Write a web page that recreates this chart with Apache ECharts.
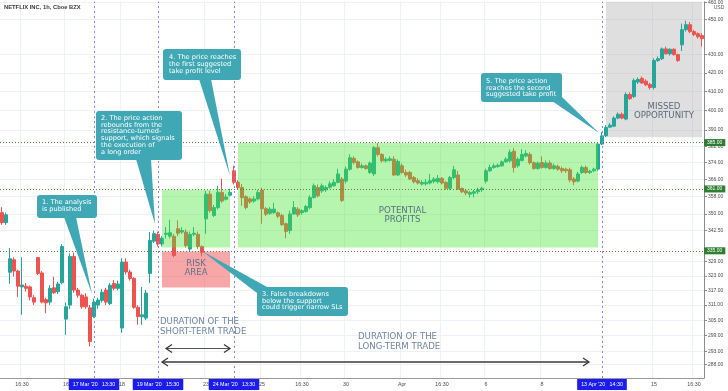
<!DOCTYPE html>
<html><head><meta charset="utf-8">
<script src="https://cdn.jsdelivr.net/npm/echarts@6/dist/echarts.min.js"></script>
<style>html,body{margin:0;padding:0;background:#fff}#c{width:728px;height:391px}</style>
</head><body><div id="c"></div>
<script>
const L = v => Math.log(v);
const days = ['2020-03-11','2020-03-12','2020-03-13','2020-03-16','2020-03-17','2020-03-18','2020-03-19','2020-03-20','2020-03-23','2020-03-24','2020-03-25','2020-03-26','2020-03-27','2020-03-30','2020-03-31','2020-04-01','2020-04-02','2020-04-03','2020-04-06','2020-04-07','2020-04-08','2020-04-09','2020-04-13','2020-04-14','2020-04-15','2020-04-16'];
const sessionHours = ['13:30','14:30','15:30','16:30','17:30','18:30','19:30'];
const categories = days.flatMap(d => sessionHours.map(h => d + ' ' + h)).slice(5, -1);

const opens = [350.5,346,324.5,329.8,325.0,318.4,318.7,318.4,314.0,330.7,
324.2,313.2,312.2,318,316.4,320.1,305.4,311.0,331.2,317.1,
315.0,314.3,309.9,306.4,311,312.9,317.1,311.6,319.8,317.8,
301.9,328.8,324.6,321.9,310.1,306.3,305.8,324.0,337.8,340.8,
336.6,340.8,340,339.9,343.3,341.8,341.8,334.4,340.8,340.8,
335.5,347.7,359.0,349.2,352.8,359.8,356.6,358.5,370.0,364.5,
362.1,357.8,356.8,355.8,356.8,360.9,352.3,350.2,350.5,350.4,
349.2,345.5,342.5,349.9,352.1,350.5,351.0,352.8,357.4,362.1,
360.5,361,362.2,362.9,364.5,366.1,365.1,370.8,376.0,374.3,
371.6,372.4,369.2,368.5,381.2,377.9,374.8,375.0,375.6,368.0,
372.4,369.2,369.2,366.8,365.3,363.7,363.8,364.2,365.0,364.8,
366.4,364.5,361.7,366.8,368.0,361.7,360.5,359.0,359.4,360.1,
361.0,365.1,370.0,371.6,372.0,372.4,374.3,374.8,379.5,372.4,
375.0,377.1,377.9,373.9,371.1,374.0,371.6,373.7,371.1,372.1,
371.1,370.8,370.5,366.1,365.1,369.2,371.6,369.2,370.0,370.8,
383.0,387.2,391.5,392.0,396.1,398.1,395.6,408.4,407.3,415.0,
417.0,415.5,413.7,412.1,426.7,427.7,433.2,430.5,433.0,430.0,
435.5,444.1,447.0,443.0,441.8,440.7];
const highs = [353,350.5,334.8,330.8,325.5,330.9,320,319,315,331,
325,314,319.1,322.6,320.5,336.5,312,332.5,332.9,318,
315.5,315.8,311,313.6,314,317.5,318,320,321.2,321,
330.4,330.4,325.5,322.5,311,318.4,317.1,341.8,342.5,342,
340,344.0,347.3,341,347,344,343,342,344,342,
336,360.5,360.5,354,362.9,366.2,359,361.5,372.4,365.5,
363.7,358.5,357.5,358,361,362,353,353,355,351,
350,346,351.4,355.8,353,352,354,358.5,364,363.5,
364,363,365,366,371,367,372,378,377,375,
373.5,373,374.5,382,383.5,378.5,376.5,377,377,375.5,
373.5,370.5,370,367.5,366.5,365.5,366,368.5,367,368,
367,365,367.5,372.4,370,362,361,360.5,361,362,
362.5,371,373,373.5,373.5,375,376.5,380.3,381,376.5,
380.5,380,379,374.5,374.5,377,375,375,373.5,373,
372,371.5,371.5,367,369.5,372.5,372.5,370.5,371.5,384,
389,392.5,393.5,397,399,399,409.5,409.5,417,417.5,
418,416.5,414.5,428,429,434,434.5,433.5,433.5,430.5,
447.6,449.3,448.5,444,442.5,442];
const lows = [345,345,319.7,322.6,314.3,307.1,316.5,312.9,311,323.3,
311.7,307.7,311,315.5,315.5,319.5,299.3,309.5,316,314,
309.5,309.5,294.8,305.9,309.5,312,311,311,317,317,
300,323.5,321,309.5,303.2,303.2,305,320,337,335.5,
335.5,339,339,330.9,340,341,335,333.5,340,334.5,
331.2,341,350.5,348.5,352,355,356,358,363.5,361,
353.6,352,354.5,355,356,345.5,349,349.5,350,348,
344.5,339.1,341,349.5,348.5,349.5,350.5,352,357,357.5,
359.5,360,361.5,362.5,364,355.3,364,370,373,371,
371,370.5,368.5,367.5,377,374,374,374.5,367.5,367.5,
368.5,367,365.5,364,363.5,363,363,363.5,364,364,
363.5,361,361,366,361,359.5,358.5,357.4,357.5,359,
360,364,369.5,371,371.5,372,374,374,369.2,371.5,
374.5,376.5,373,370.5,370.5,371,371,370.5,370.5,370,
369,369,364.5,363.2,364.5,368.5,368.5,368.5,369.5,370,
382.5,386.5,391,391.5,395.5,395.5,395,405.5,406.5,414,
414,413,411,411,426,427,430,429.5,429.5,426,
432,443,442,440.5,439,434.5];
const closes = [346,349.5,330.2,325.0,318.7,319.2,317.8,314.3,312.2,324.0,
312.2,311.9,317.8,316,319.6,335.5,310.3,331.2,317.1,315.0,
310.3,310.3,296.7,312.2,313,316.2,312.2,319.1,317.8,319.6,
328.8,324.6,321.9,310.1,306.4,307.1,315.9,338.1,341.1,336.6,
339.1,341.3,341.5,331.6,341.3,342.5,335.9,340.8,341.3,335.5,
333.0,359.0,351.4,352.8,359.8,355.8,357.7,359.8,364.5,362.1,
357.4,352.8,355.4,356.8,359.8,352.3,349.8,352.1,352.1,348.9,
345.1,342.1,349.9,352.8,349.5,351.4,353.3,357.4,362.9,358.2,
362.9,362.1,363.8,364.5,368.5,356.1,370.8,376.3,374.0,371.6,
372.4,371.1,373.7,381.2,377.9,374.8,375.6,375.8,368.0,374.5,
369.2,368.0,366.1,364.8,364.2,364.5,364.5,365.3,366.1,366.4,
364.2,361.7,366.8,370.5,361.4,360.1,359.5,359.8,360.1,361.0,
361.7,370.0,371.6,372.4,372.7,374.3,375.6,379.0,371.6,375.6,
377.9,378.4,373.9,371.1,373.7,371.6,373.7,371.1,372.4,370.8,
370.0,370.0,365.6,364.8,368.5,371.6,369.2,369.8,370.8,383.0,
387.1,391.4,392.5,396.1,398.1,396.1,408.4,406.2,415.9,416.4,
414.5,413.5,412.1,426.7,427.7,433.2,430.5,433.0,430.0,426.7,
444.1,447.0,443.0,441.3,440.1,439.0];

const yTickValues = [288,293,299,305,311,317,323,329,342.5,350,358,366,374,382,390,400,410,420,430,450,460];
const yRange = [283, 460.5];
const xTickLabels = [
  ['2020-03-12 16:30','16:30'],['2020-03-16 13:30','16'],['2020-03-18 13:30','18'],
  ['2020-03-23 13:30','23'],['2020-03-25 13:30','25'],['2020-03-26 16:30','16:30'],
  ['2020-03-30 13:30','30'],['2020-04-01 13:30','Apr'],['2020-04-02 16:30','16:30'],
  ['2020-04-06 13:30','6'],['2020-04-08 13:30','8'],['2020-04-15 13:30','15'],
  ['2020-04-16 16:30','16:30']];
const eventMarks = [
  ['2020-03-17 13:30',"17 Mar '20   13:30"],
  ['2020-03-19 15:30',"19 Mar '20   15:30"],
  ['2020-03-24 13:30',"24 Mar '20   13:30"],
  ['2020-04-13 14:30',"13 Apr '20   14:30"]];
const levelPrices = [385, 361, 335];
const lastPrice = 439;
// zones: [fromCategory, toCategory, lowPrice, highPrice]
const shortTradeZone = ['2020-03-19 16:30','2020-03-23 19:30',335,361];
const riskZone = ['2020-03-19 16:30','2020-03-23 19:30',318.2,333.3];
const longTradeZone = ['2020-03-24 14:30','2020-04-13 13:30',335,383.5];
const missedZone = ['2020-04-13 15:30','2020-04-16 18:30',386.4,460.5];

const xTickMap = new Map(xTickLabels);
const candleData = opens.map((o, i) => [L(o), L(closes[i]), L(lows[i]), L(highs[i])]);
const zoneArea = (z, color) => [{xAxis: z[0], yAxis: L(z[2]), itemStyle: {color}}, {xAxis: z[1], yAxis: L(z[3])}];

const chart = echarts.init(document.getElementById('c'), null, {renderer: 'canvas'});
const teal = '#40a8b5';
const txtFont = 'DejaVu Sans';
function callout(x, y, w, h, pointer, tx, ty, text) {
  return [
    {type: 'polygon', z: 100, shape: {points: pointer}, style: {fill: teal}},
    {type: 'rect', z: 100, shape: {x, y, width: w, height: h, r: 3}, style: {fill: teal}},
    {type: 'text', z: 101, x: tx, y: ty, style: {text, fill: '#fff', fontSize: 6.6, fontFamily: txtFont, lineHeight: 6.8, verticalAlign: 'top'}}
  ];
}
function label(x, y, text, align, color, lh) {
  return {type: 'text', z: 99, x, y, style: {text, fill: color, fontSize: 8.6, fontFamily: txtFont, lineHeight: lh, align, verticalAlign: 'middle'}};
}
function arrow(x1, x2, y, lineColor, lw) {
  return [
    {type: 'polyline', z: 99, shape: {points: [[x1, y], [x2, y]]}, style: {stroke: lineColor, lineWidth: lw, fill: null}},
    {type: 'polyline', z: 99, shape: {points: [[x1 + 6, y - 4], [x1, y], [x1 + 6, y + 4]]}, style: {stroke: '#333', lineWidth: 1.2, fill: null}},
    {type: 'polyline', z: 99, shape: {points: [[x2 - 6, y - 4], [x2, y], [x2 - 6, y + 4]]}, style: {stroke: '#333', lineWidth: 1.2, fill: null}}
  ];
}

const graphics = [].concat(
  callout(37, 195, 60, 23, [[64, 217], [76, 217], [92, 294]], 42, 199.3, '1. The analysis\nis published'),
  callout(96, 111, 86, 49, [[136, 159], [151, 159], [155, 224]], 101, 114.6, '2. The price action\nrebounds from the\nresistance-turned-\nsupport, which signals\nthe execution of\na long order'),
  callout(257, 287, 91, 29, [[257, 293], [267, 287], [202, 251]], 262, 290.6, '3. False breakdowns\nbelow the support\ncould trigger narrow SLs'),
  callout(163, 49, 78, 31, [[199, 79], [211, 79], [230, 176]], 169, 54.3, '4. The price reaches\nthe first suggested\ntake profit level'),
  callout(481, 73, 81, 29, [[552, 101], [562, 97], [599, 133]], 486, 77.6, '5. The price action\nreaches the second\nsuggested take profit'),
  [label(196, 268.5, 'RISK\nAREA', 'center', '#5f7385', 9.5),
   label(402.5, 215, 'POTENTIAL\nPROFITS', 'center', '#5a7082', 9),
   label(664, 111.3, 'MISSED\nOPPORTUNITY', 'center', '#5a6a78', 9.5),
   label(160, 327, 'DURATION OF THE\nSHORT-TERM TRADE', 'left', '#6f86a2', 9.5),
   label(358, 342, 'DURATION OF THE\nLONG-TERM TRADE', 'left', '#6f86a2', 9.5),
   {type: 'text', z: 99, x: 719, y: 7.5, style: {text: 'USD', fill: '#555', fontSize: 5, fontFamily: 'Liberation Sans', align: 'center', verticalAlign: 'middle'}}],
  arrow(166, 230, 348.5, '#555', 1),
  arrow(162, 589, 362, '#6b6b6b', 1.8)
);

const option = {
  animation: false,
  backgroundColor: '#ffffff',
  title: {text: 'NETFLIX INC, 1h, Cboe BZX', left: 4, top: 4.5, padding: 0,
    textStyle: {fontSize: 5.8, fontWeight: 'bold', color: '#3a3a3a', fontFamily: 'Liberation Sans'}},
  grid: {left: 0, right: 24, top: 0, bottom: 13, containLabel: false},
  xAxis: {
    type: 'category', data: categories, boundaryGap: true,
    axisLine: {show: true, lineStyle: {color: '#9a9a9a'}},
    axisTick: {show: false},
    axisLabel: {interval: (i, v) => xTickMap.has(v), formatter: v => xTickMap.get(v) || '',
      fontSize: 5.3, color: '#4a4a4a', margin: 4, fontFamily: 'Liberation Sans'},
    splitLine: {show: true, interval: (i, v) => xTickMap.has(v), lineStyle: {color: '#eef1f6', width: 1}}
  },
  yAxis: {
    type: 'value', position: 'right', min: L(yRange[0]), max: L(yRange[1]),
    axisLine: {show: true, lineStyle: {color: '#8c8c8c'}},
    axisTick: {show: true, length: 3, customValues: yTickValues.map(L), lineStyle: {color: '#8c8c8c'}},
    axisLabel: {customValues: yTickValues.map(L), formatter: v => Math.exp(v).toFixed(2),
      fontSize: 5, color: '#4a4a4a', margin: 4, fontFamily: 'Liberation Sans'},
    splitLine: {show: true, lineStyle: {color: '#eef1f6', width: 1}}
  },
  series: [
    {
      type: 'line', data: [], z: 1, silent: true,
      markArea: {silent: true, z: 1, data: [zoneArea(missedZone, 'rgba(150,150,150,0.3)')]}
    },
    {
      type: 'candlestick', data: candleData, z: 2, barWidth: 3,
      itemStyle: {color: '#26a69a', color0: '#ef5350', borderColor: '#26a69a', borderColor0: '#ef5350', borderWidth: 1}
    },
    {
      type: 'line', data: [], z: 3, silent: true,
      markArea: {silent: true, z: 3, data: [
        zoneArea(shortTradeZone, 'rgba(70,230,50,0.4)'),
        zoneArea(longTradeZone, 'rgba(70,230,50,0.4)'),
        zoneArea(riskZone, 'rgba(240,80,80,0.5)')
      ]},
      markLine: {silent: true, symbol: ['none', 'none'], z: 6, data: [].concat(
        eventMarks.map(m => ({xAxis: m[0],
          lineStyle: {type: [2, 3], color: '#8585e0', width: 1},
          label: {show: true, position: 'start', distance: 1, formatter: m[1], backgroundColor: '#1c1cf0',
            color: '#fff', fontSize: 5.3, padding: [3, 4], fontFamily: 'Liberation Sans'}})),
        levelPrices.map(p => ({yAxis: L(p),
          lineStyle: {type: [1, 2], color: '#5f7f3f', width: 1},
          label: {show: true, position: 'end', distance: 0, formatter: p.toFixed(2), backgroundColor: '#2e7d32',
            color: '#fff', fontSize: 5, padding: [1, 3], fontFamily: 'Liberation Sans'}})),
        [{yAxis: L(lastPrice), lineStyle: {opacity: 0},
          label: {show: true, position: 'end', distance: 0, formatter: lastPrice.toFixed(2), backgroundColor: '#22a699',
            color: '#fff', fontSize: 5, padding: [1.5, 3], fontFamily: 'Liberation Sans'}}]
      )}
    }
  ],
  graphic: graphics
};
chart.setOption(option);
</script>
</body></html>
